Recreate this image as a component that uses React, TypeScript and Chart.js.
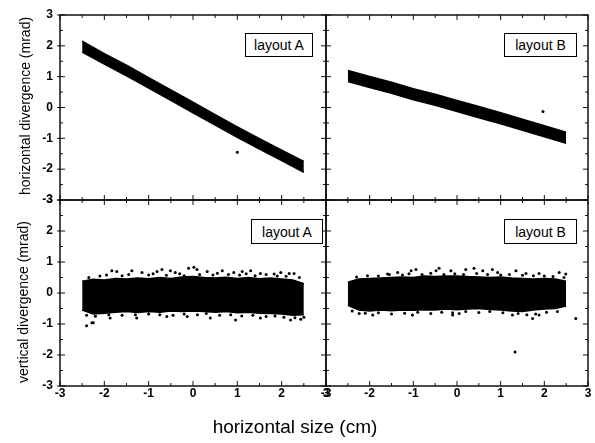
import React, { useEffect, useRef } from "react";
import { Chart, registerables } from "chart.js";

Chart.register(...registerables);

// ---------- data ----------
const AXIS_MIN = -3;
const AXIS_MAX = 3;
const TICK_MARKS = [-3, -2.5, -2, -1.5, -1, -0.5, 0, 0.5, 1, 1.5, 2, 2.5, 3];

// top panels: horizontal divergence vs horizontal size (cloud edges)
const TOP_X = [-2.5, -2, -1.5, -1, -0.5, 0, 0.5, 1, 1.5, 2, 2.5];
const TOP_A_UPPER = [2.15, 1.75, 1.37, 0.97, 0.57, 0.17, -0.23, -0.63, -1.01, -1.38, -1.75];
const TOP_A_LOWER = [1.8, 1.41, 1.03, 0.63, 0.23, -0.17, -0.57, -0.97, -1.35, -1.72, -2.1];
const TOP_B_UPPER = [1.2, 1.01, 0.82, 0.61, 0.43, 0.23, 0.03, -0.17, -0.38, -0.59, -0.8];
const TOP_B_LOWER = [0.84, 0.65, 0.46, 0.25, 0.07, -0.13, -0.33, -0.53, -0.74, -0.95, -1.16];
const TOP_A_DOTS: [number, number][] = [[1.0, -1.45]];
const TOP_B_DOTS: [number, number][] = [[1.97, -0.13]];

// bottom panels: vertical divergence vs horizontal size (dense cloud edges)
const BOT_X = [-2.5, -2.25, -2, -1.75, -1.5, -1.25, -1, -0.75, -0.5, -0.25, 0, 0.25, 0.5, 0.75, 1, 1.25, 1.5, 1.75, 2, 2.25, 2.5];
const BOT_A_UPPER = [0.38, 0.44, 0.42, 0.47, 0.45, 0.48, 0.46, 0.5, 0.47, 0.52, 0.53, 0.5, 0.48, 0.51, 0.47, 0.5, 0.46, 0.48, 0.45, 0.42, 0.3];
const BOT_A_LOWER = [-0.55, -0.68, -0.65, -0.62, -0.6, -0.63, -0.6, -0.62, -0.58, -0.6, -0.58, -0.6, -0.62, -0.6, -0.64, -0.62, -0.65, -0.66, -0.68, -0.72, -0.7];
const BOT_B_UPPER = [0.35, 0.45, 0.47, 0.48, 0.5, 0.52, 0.5, 0.55, 0.53, 0.55, 0.55, 0.53, 0.52, 0.5, 0.52, 0.48, 0.47, 0.45, 0.47, 0.45, 0.38];
const BOT_B_LOWER = [-0.4, -0.55, -0.58, -0.55, -0.57, -0.55, -0.56, -0.54, -0.55, -0.52, -0.54, -0.52, -0.5, -0.53, -0.55, -0.58, -0.6, -0.55, -0.52, -0.5, -0.42];
// scattered points around the dense clouds
const BOT_A_DOTS: [number, number][] = [
  [-1.83, 0.72], [-1.72, 0.69], [-1.38, 0.72], [-1.15, 0.66], [-0.81, 0.69], [-0.7, 0.76],
  [-0.51, 0.72], [-0.4, 0.66], [-0.1, 0.8], [0.02, 0.83], [0.09, 0.76], [0.32, 0.69],
  [0.66, 0.72], [0.92, 0.66], [1.11, 0.69], [1.3, 0.72], [1.52, 0.63], [1.83, 0.61],
  [1.98, 0.66], [2.17, 0.63], [2.28, 0.63],
  [-2.35, 0.5], [-2.1, 0.55], [-1.95, 0.58], [-1.6, 0.56], [-1.45, 0.6], [-1.0, 0.58],
  [-0.9, 0.62], [-0.6, 0.57], [-0.3, 0.62], [-0.2, 0.56], [0.15, 0.6], [0.45, 0.58],
  [0.55, 0.64], [0.8, 0.6], [1.05, 0.58], [1.2, 0.62], [1.4, 0.56], [1.65, 0.6],
  [1.9, 0.55], [2.1, 0.54], [2.4, 0.5],
  [-2.4, -0.72], [-2.2, -0.75], [-1.9, -0.7], [-1.6, -0.72], [-1.3, -0.7], [-1.0, -0.68],
  [-0.75, -0.7], [-0.45, -0.72], [-0.2, -0.68], [0.1, -0.7], [0.3, -0.66], [0.6, -0.72],
  [0.85, -0.7], [1.1, -0.74], [1.35, -0.72], [1.65, -0.76], [1.85, -0.74], [2.05, -0.78],
  [2.3, -0.8], [2.5, -0.78],
  [-2.4, -1.06], [-2.28, -0.96], [-2.25, -0.96], [-1.87, -0.81], [-1.27, -0.81], [-0.59, -0.76],
  [-0.13, -0.76], [0.39, -0.81], [0.96, -0.87], [1.52, -0.81], [2.2, -0.87], [2.43, -0.85],
];
const BOT_B_DOTS: [number, number][] = [
  [-1.59, 0.61], [-1.36, 0.66], [-1.05, 0.72], [-0.94, 0.76], [-0.48, 0.72], [-0.41, 0.8],
  [-0.14, 0.72], [0.2, 0.76], [0.39, 0.8], [0.59, 0.72], [0.81, 0.76], [0.93, 0.66],
  [1.35, 0.72], [1.58, 0.63], [1.88, 0.63], [2.34, 0.66], [2.49, 0.61],
  [-2.3, 0.52], [-2.05, 0.56], [-1.8, 0.55], [-1.55, 0.6], [-1.25, 0.58], [-1.1, 0.62],
  [-0.8, 0.6], [-0.6, 0.64], [-0.3, 0.6], [-0.05, 0.62], [0.15, 0.6], [0.45, 0.63],
  [0.7, 0.6], [1.0, 0.58], [1.2, 0.6], [1.5, 0.57], [1.75, 0.56], [2.0, 0.55],
  [2.2, 0.53], [2.45, 0.5],
  [-2.4, -0.58], [-2.1, -0.65], [-1.8, -0.64], [-1.5, -0.68], [-1.2, -0.65], [-0.9, -0.62],
  [-0.6, -0.66], [-0.35, -0.62], [-0.1, -0.64], [0.2, -0.6], [0.5, -0.63], [0.75, -0.6],
  [1.05, -0.64], [1.4, -0.66], [1.6, -0.7], [1.8, -0.68], [2.05, -0.62], [2.3, -0.6],
  [-2.24, -0.66], [-1.93, -0.71], [-1.02, -0.71], [-0.1, -0.71], [0.05, -0.66],
  [1.27, -0.71], [1.73, -0.82], [1.88, -0.71],
  [1.33, -1.9], [2.72, -0.82],
];

const FONT = 'Arial, "Liberation Sans", sans-serif';

type Band = { x: number[]; upper: number[]; lower: number[] };

const framePlugin = {
  id: "frame",
  afterDraw(chart: any, _args: any, opts: any) {
    const { ctx, chartArea, scales } = chart;
    const { left, right, top, bottom } = chartArea;
    const xs = scales.x;
    const ys = scales.y;
    ctx.save();
    ctx.strokeStyle = "#111";
    ctx.lineWidth = 1;
    const seg = (x1: number, y1: number, x2: number, y2: number) => {
      ctx.beginPath();
      ctx.moveTo(x1, y1);
      ctx.lineTo(x2, y2);
      ctx.stroke();
    };
    for (const v of TICK_MARKS) {
      const len = Number.isInteger(v) ? 5 : 3;
      const px = xs.getPixelForValue(v);
      seg(px, bottom, px, bottom - len);
      seg(px, top, px, top + len);
      const py = ys.getPixelForValue(v);
      seg(left, py, left + len, py);
      seg(right, py, right - len, py);
      if (opts && opts.outerLeft && Number.isInteger(v)) seg(left, py, left - 3, py);
    }
    ctx.lineWidth = 1.5;
    ctx.strokeRect(left, top, right - left, bottom - top);
    ctx.restore();
  },
};

function Panel(props: {
  left: number;
  top: number;
  width: number;
  height: number;
  padding: { left: number; right: number; top: number; bottom: number };
  showX: boolean;
  showY: boolean;
  band: Band;
  dots: [number, number][];
}) {
  const ref = useRef<HTMLCanvasElement>(null);
  useEffect(() => {
    const { band, dots, showX, showY, padding } = props;
    const tickFont = { family: FONT, size: 12, weight: "bold" as const };
    const chart = new Chart(ref.current as HTMLCanvasElement, {
      type: "scatter",
      data: {
        datasets: [
          {
            data: band.x.map((x, i) => ({ x, y: band.lower[i] })),
            showLine: true,
            borderColor: "#000",
            backgroundColor: "#000",
            borderWidth: 1.5,
            pointRadius: 0,
            fill: false,
          } as any,
          {
            data: band.x.map((x, i) => ({ x, y: band.upper[i] })),
            showLine: true,
            borderColor: "#000",
            backgroundColor: "#000",
            borderWidth: 1.5,
            pointRadius: 0,
            fill: "-1",
          } as any,
          {
            data: dots.map(([x, y]) => ({ x, y })),
            showLine: false,
            backgroundColor: "#000",
            borderWidth: 0,
            pointRadius: 1.5,
          } as any,
        ],
      },
      options: {
        responsive: false,
        animation: false,
        layout: { padding },
        plugins: {
          legend: { display: false },
          tooltip: { enabled: false },
          frame: { outerLeft: showY },
        } as any,
        scales: {
          x: {
            type: "linear",
            min: AXIS_MIN,
            max: AXIS_MAX,
            display: showX,
            afterFit: (s: any) => {
              s.height = showX ? 20 : 0;
              s.paddingLeft = 0;
              s.paddingRight = 0;
              s.paddingTop = 0;
              s.paddingBottom = 0;
            },
            grid: { display: false, drawTicks: false },
            border: { display: false },
            ticks: {
              stepSize: 1,
              autoSkip: false,
              maxRotation: 0,
              padding: 0,
              color: "#000",
              font: tickFont,
            },
          },
          y: {
            type: "linear",
            min: AXIS_MIN,
            max: AXIS_MAX,
            display: showY,
            afterFit: (s: any) => {
              s.width = showY ? 60 : 0;
              s.paddingLeft = 0;
              s.paddingRight = 0;
              s.paddingTop = 0;
              s.paddingBottom = 0;
            },
            grid: { display: false, drawTicks: false },
            border: { display: false },
            ticks: {
              stepSize: 1,
              autoSkip: false,
              padding: 7,
              color: "#000",
              font: tickFont,
            },
          },
        },
      },
      plugins: [framePlugin],
    });
    return () => chart.destroy();
  }, []);
  return (
    <canvas
      ref={ref}
      width={props.width}
      height={props.height}
      style={{ position: "absolute", left: props.left, top: props.top, width: props.width, height: props.height }}
    />
  );
}

function LayoutBox(props: { left: number; top: number; width: number; height: number; text: string }) {
  return (
    <div
      style={{
        position: "absolute",
        left: props.left,
        top: props.top,
        width: props.width,
        height: props.height,
        boxSizing: "border-box",
        border: "1px solid #000",
        background: "#fff",
        fontFamily: FONT,
        fontSize: 14,
        color: "#000",
        display: "flex",
        alignItems: "center",
        justifyContent: "center",
        whiteSpace: "nowrap",
      }}
    >
      {props.text}
    </div>
  );
}

function AxisTitle(props: { cx: number; cy: number; size: number; text: string; rotate?: boolean }) {
  return (
    <div
      style={{
        position: "absolute",
        left: props.cx,
        top: props.cy,
        transform: `translate(-50%, -50%)${props.rotate ? " rotate(-90deg)" : ""}`,
        fontFamily: FONT,
        fontSize: props.size,
        color: "#000",
        whiteSpace: "nowrap",
        lineHeight: 1,
      }}
    >
      {props.text}
    </div>
  );
}

export default function App() {
  return (
    <div style={{ position: "absolute", left: 0, top: 0, width: 595, height: 443, background: "#fff", overflow: "hidden" }}>
      <Panel
        left={0}
        top={0}
        width={340}
        height={205}
        padding={{ left: 0, right: 14, top: 15, bottom: 5 }}
        showX={false}
        showY={true}
        band={{ x: TOP_X, upper: TOP_A_UPPER, lower: TOP_A_LOWER }}
        dots={TOP_A_DOTS}
      />
      <Panel
        left={312}
        top={0}
        width={283}
        height={205}
        padding={{ left: 14, right: 7, top: 15, bottom: 5 }}
        showX={false}
        showY={false}
        band={{ x: TOP_X, upper: TOP_B_UPPER, lower: TOP_B_LOWER }}
        dots={TOP_B_DOTS}
      />
      <Panel
        left={0}
        top={195}
        width={340}
        height={248}
        padding={{ left: 0, right: 14, top: 5, bottom: 37 }}
        showX={true}
        showY={true}
        band={{ x: BOT_X, upper: BOT_A_UPPER, lower: BOT_A_LOWER }}
        dots={BOT_A_DOTS}
      />
      <Panel
        left={312}
        top={195}
        width={283}
        height={248}
        padding={{ left: 14, right: 7, top: 5, bottom: 37 }}
        showX={true}
        showY={false}
        band={{ x: BOT_X, upper: BOT_B_UPPER, lower: BOT_B_LOWER }}
        dots={BOT_B_DOTS}
      />
      <LayoutBox left={245} top={33} width={68} height={24} text="layout A" />
      <LayoutBox left={504} top={33} width={73} height={24} text="layout B" />
      <LayoutBox left={251} top={219} width={72} height={25} text="layout A" />
      <LayoutBox left={504} top={219} width={73} height={25} text="layout B" />
      <AxisTitle cx={25} cy={106} size={14} rotate text="horizontal divergence (mrad)" />
      <AxisTitle cx={23} cy={302} size={14} rotate text="vertical divergence (mrad)" />
      <AxisTitle cx={295} cy={426} size={19} text="horizontal size (cm)" />
    </div>
  );
}
